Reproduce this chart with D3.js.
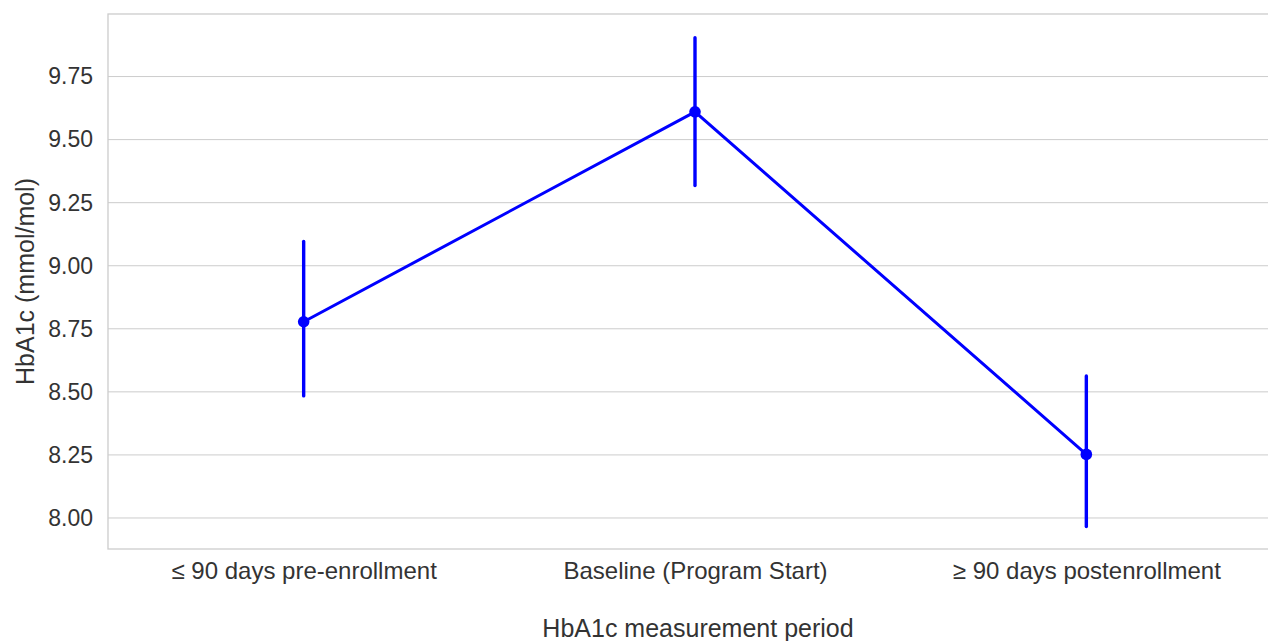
<!DOCTYPE html>
<html>
<head>
<meta charset="utf-8">
<script src="https://cdn.jsdelivr.net/npm/d3@7"></script>
<style>
  html, body { margin: 0; padding: 0; background: #fff; overflow: hidden; }
  svg { display: block; font-family: "Liberation Sans", Arial, sans-serif; }
</style>
</head>
<body>
<svg id="chart" width="1268" height="641"></svg>
<script>
// Mean HbA1c per measurement period with confidence intervals
const periods = ["≤ 90 days pre-enrollment", "Baseline (Program Start)", "≥ 90 days postenrollment"];
const means = [8.778, 9.610, 8.252];
const ciLow = [8.484, 9.318, 7.966];
const ciHigh = [9.096, 9.904, 8.563];
const yTicks = [8.00, 8.25, 8.50, 8.75, 9.00, 9.25, 9.50, 9.75];

const svg = d3.select("#chart");
const W = 1268, H = 641;
// the plotting area runs slightly past the right edge of the canvas
const plot = { left: 108, right: 1282, top: 14, bottom: 549 };

const x = d3.scalePoint().domain(periods).range([plot.left, plot.right]).padding(0.5);
const y = d3.scaleLinear().domain([7.877, 9.998]).range([plot.bottom, plot.top]);

// grid lines
svg.append("g")
  .selectAll("line")
  .data(yTicks)
  .join("line")
  .attr("x1", plot.left).attr("x2", plot.right)
  .attr("y1", d => y(d)).attr("y2", d => y(d))
  .attr("stroke", "#cccccc").attr("stroke-width", 1);

// frame
svg.append("rect")
  .attr("x", plot.left).attr("y", plot.top)
  .attr("width", plot.right - plot.left).attr("height", plot.bottom - plot.top)
  .attr("fill", "none").attr("stroke", "#cccccc").attr("stroke-width", 1.3);

// y axis
const yAxis = svg.append("g")
  .attr("transform", `translate(${plot.left},0)`)
  .call(d3.axisLeft(y).tickValues(yTicks).tickFormat(d3.format(".2f")).tickSize(0).tickPadding(15));
yAxis.select(".domain").remove();
yAxis.selectAll("text").attr("font-size", 23).attr("fill", "#333333");

// x axis
const xAxis = svg.append("g")
  .attr("transform", `translate(0,${plot.bottom})`)
  .call(d3.axisBottom(x).tickSize(0).tickPadding(13));
xAxis.select(".domain").remove();
xAxis.selectAll("text").attr("font-size", 24).attr("fill", "#333333");

// axis titles
svg.append("text")
  .attr("transform", `translate(34,${(plot.top + plot.bottom) / 2}) rotate(-90)`)
  .attr("text-anchor", "middle")
  .attr("font-size", 25).attr("fill", "#333333")
  .text("HbA1c (mmol/mol)");
svg.append("text")
  .attr("x", 698).attr("y", 637)
  .attr("text-anchor", "middle")
  .attr("font-size", 25).attr("fill", "#333333")
  .text("HbA1c measurement period");

const blue = "#0000ff";

// connecting line
svg.append("path")
  .datum(means)
  .attr("fill", "none")
  .attr("stroke", blue).attr("stroke-width", 3)
  .attr("d", d3.line().x((d, i) => x(periods[i])).y(d => y(d)));

// error bars
svg.append("g")
  .selectAll("line")
  .data(periods)
  .join("line")
  .attr("x1", d => x(d)).attr("x2", d => x(d))
  .attr("y1", (d, i) => y(ciLow[i])).attr("y2", (d, i) => y(ciHigh[i]))
  .attr("stroke", blue).attr("stroke-width", 3.4).attr("stroke-linecap", "round");

// point markers
svg.append("g")
  .selectAll("circle")
  .data(means)
  .join("circle")
  .attr("cx", (d, i) => x(periods[i])).attr("cy", d => y(d))
  .attr("r", 5.8).attr("fill", blue);
</script>
</body>
</html>
